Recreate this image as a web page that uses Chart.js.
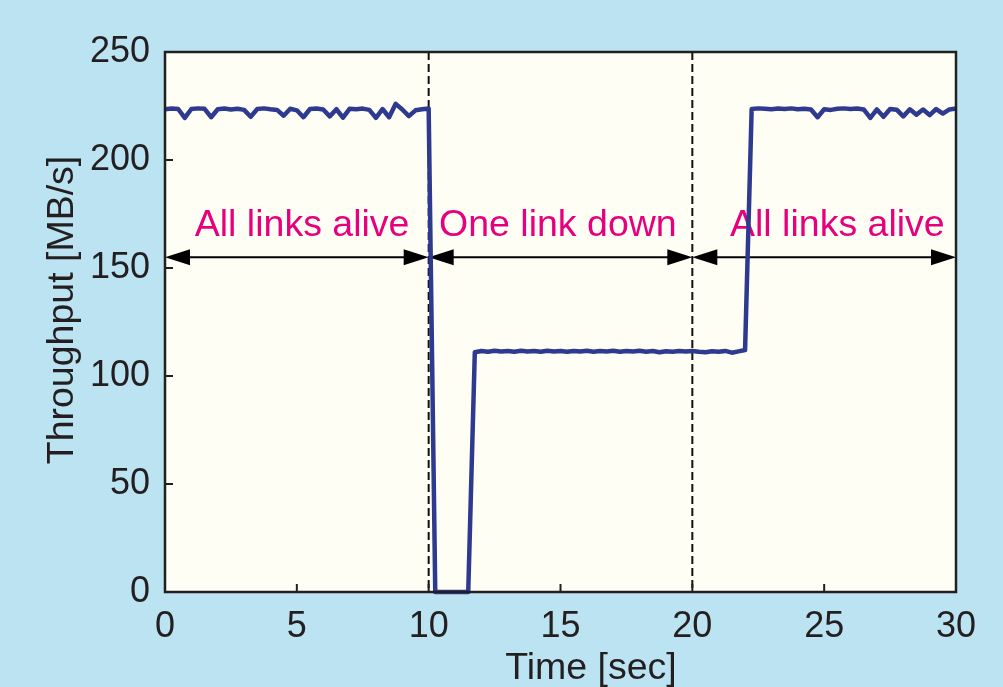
<!DOCTYPE html>
<html>
<head>
<meta charset="utf-8">
<script src="https://cdn.jsdelivr.net/npm/chart.js@4"></script>
<style>
  html, body { margin: 0; padding: 0; background: #bbe3f1; }
  #wrap { width: 1003px; height: 687px; }
</style>
</head>
<body>
<div id="wrap"><canvas id="myChart" width="1003" height="687"></canvas></div>
<script>
// tiempo [s], cada 0.25 s
const times = [
  0, 0.25, 0.5, 0.75, 1, 1.25, 1.5, 1.75, 2, 2.25, 2.5, 2.75, 3, 3.25, 3.5, 3.75,
  4, 4.25, 4.5, 4.75, 5, 5.25, 5.5, 5.75, 6, 6.25, 6.5, 6.75, 7, 7.25, 7.5, 7.75,
  8, 8.25, 8.5, 8.75, 9, 9.25, 9.5, 9.75, 10, 10.25, 10.5, 10.75, 11, 11.25, 11.5, 11.75,
  12, 12.25, 12.5, 12.75, 13, 13.25, 13.5, 13.75, 14, 14.25, 14.5, 14.75, 15, 15.25, 15.5, 15.75,
  16, 16.25, 16.5, 16.75, 17, 17.25, 17.5, 17.75, 18, 18.25, 18.5, 18.75, 19, 19.25, 19.5, 19.75,
  20, 20.25, 20.5, 20.75, 21, 21.25, 21.5, 21.75, 22, 22.25, 22.5, 22.75, 23, 23.25, 23.5, 23.75,
  24, 24.25, 24.5, 24.75, 25, 25.25, 25.5, 25.75, 26, 26.25, 26.5, 26.75, 27, 27.25, 27.5, 27.75,
  28, 28.25, 28.5, 28.75, 29, 29.25, 29.5, 29.75, 30
];

// throughput [MB/s]
const throughput = [
  223.5, 223.8, 223.6, 219.5, 223.6, 223.9, 223.7, 219.8, 223.5, 223.8, 223.4, 223.7, 223.2, 220.0, 223.6, 223.9,
  223.5, 223.2, 220.5, 223.7, 223.0, 219.8, 223.6, 223.8, 223.4, 220.2, 223.5, 219.6, 223.7, 223.5, 223.8, 223.2,
  219.5, 223.6, 219.8, 226.0, 223.4, 220.3, 223.0, 223.5, 223.8, 0, 0, 0, 0, 0, 0, 111.0,
  111.6, 111.2, 111.7, 111.3, 111.6, 111.2, 111.7, 111.3, 111.6, 111.2, 111.7, 111.3, 111.6, 111.2, 111.6, 111.3,
  111.7, 111.2, 111.6, 111.3, 111.7, 111.2, 111.6, 111.3, 111.7, 111.2, 111.6, 111.0, 111.5, 111.2, 111.6, 111.3,
  111.6, 111.2, 111.0, 111.5, 111.2, 111.6, 110.8, 111.4, 112.0, 223.6, 223.9, 223.7, 223.5, 223.8, 223.6, 223.9,
  223.5, 223.7, 223.4, 219.8, 223.5, 223.2, 223.7, 223.9, 223.6, 223.8, 223.4, 219.5, 223.4, 220.0, 223.6, 223.3,
  220.2, 223.5, 221.0, 223.4, 220.8, 223.6, 221.5, 223.4, 223.8
];

// fases del experimento
const phaseStarts = [0, 10, 20];
const phaseEnds = [10, 20, 30];
const phaseLabels = ["All links alive", "One link down", "All links alive"];
const phaseLabelX = [5.2, 14.9, 25.5];
const arrowLevel = 155;
const labelLevel = 165;
const dividers = [10, 20];

const xTicks = [0, 5, 10, 15, 20, 25, 30];
const yTicks = [0, 50, 100, 150, 200, 250];
const xTitle = "Time [sec]";
const yTitle = "Throughput [MB/s]";

const FONT = "'Liberation Sans', Arial, Helvetica, sans-serif";

const decoPlugin = {
  id: "deco",
  beforeDraw(chart) {
    const ctx = chart.ctx;
    const a = chart.chartArea;
    ctx.save();
    ctx.fillStyle = "#bbe3f1";
    ctx.fillRect(0, 0, chart.width, chart.height);
    ctx.fillStyle = "#fefef4";
    ctx.fillRect(a.left, a.top, a.right - a.left, a.bottom - a.top);
    ctx.restore();
  },
  beforeDatasetsDraw(chart) {
    const ctx = chart.ctx;
    const a = chart.chartArea;
    const xs = chart.scales.x;
    const ys = chart.scales.y;
    ctx.save();
    // líneas divisorias punteadas
    ctx.strokeStyle = "#111";
    ctx.lineWidth = 2;
    ctx.setLineDash([8, 4]);
    dividers.forEach(d => {
      const px = xs.getPixelForValue(d);
      ctx.beginPath();
      ctx.moveTo(px, a.top);
      ctx.lineTo(px, a.bottom);
      ctx.stroke();
    });
    ctx.setLineDash([]);
    // flechas
    const py = ys.getPixelForValue(arrowLevel);
    const headL = 25, headH = 8;
    for (let i = 0; i < phaseStarts.length; i++) {
      const x1 = xs.getPixelForValue(phaseStarts[i]);
      const x2 = xs.getPixelForValue(phaseEnds[i]);
      ctx.strokeStyle = "#000";
      ctx.fillStyle = "#000";
      ctx.lineWidth = 2;
      ctx.beginPath();
      ctx.moveTo(x1 + 5, py);
      ctx.lineTo(x2 - 5, py);
      ctx.stroke();
      ctx.beginPath();
      ctx.moveTo(x1, py);
      ctx.lineTo(x1 + headL, py - headH);
      ctx.lineTo(x1 + headL, py + headH);
      ctx.closePath();
      ctx.fill();
      ctx.beginPath();
      ctx.moveTo(x2, py);
      ctx.lineTo(x2 - headL, py - headH);
      ctx.lineTo(x2 - headL, py + headH);
      ctx.closePath();
      ctx.fill();
      // texto
      ctx.fillStyle = "#e6007e";
      ctx.font = "37.5px " + FONT;
      ctx.textAlign = "center";
      ctx.textBaseline = "alphabetic";
      ctx.fillText(phaseLabels[i], xs.getPixelForValue(phaseLabelX[i]), ys.getPixelForValue(labelLevel));
    }
    ctx.restore();
  },
  afterDraw(chart) {
    const ctx = chart.ctx;
    const a = chart.chartArea;
    const xs = chart.scales.x;
    const ys = chart.scales.y;
    ctx.save();
    ctx.strokeStyle = "#231f20";
    ctx.lineWidth = 2;
    // marcas hacia adentro
    xTicks.forEach(t => {
      const px = xs.getPixelForValue(t);
      ctx.beginPath();
      ctx.moveTo(px, a.bottom);
      ctx.lineTo(px, a.bottom - 8);
      ctx.stroke();
    });
    yTicks.forEach(t => {
      const py = ys.getPixelForValue(t);
      ctx.beginPath();
      ctx.moveTo(a.left, py);
      ctx.lineTo(a.left + 8, py);
      ctx.stroke();
    });
    ctx.lineWidth = 2.5;
    ctx.strokeRect(a.left, a.top, a.right - a.left, a.bottom - a.top);
    // títulos de ejes
    ctx.fillStyle = "#231f20";
    ctx.font = "37.5px " + FONT;
    ctx.textAlign = "center";
    ctx.textBaseline = "alphabetic";
    ctx.fillText(xTitle, 591, 679);
    ctx.translate(73, 310);
    ctx.rotate(-Math.PI / 2);
    ctx.fillText(yTitle, 0, 0);
    ctx.restore();
  }
};

const points = times.map((t, i) => ({ x: t, y: throughput[i] }));

new Chart("myChart", {
  type: "line",
  data: {
    datasets: [{
      data: points,
      borderColor: "#2e3a8f",
      borderWidth: 4.5,
      borderJoinStyle: "round",
      pointRadius: 0,
      tension: 0,
      fill: false,
      clip: false
    }]
  },
  options: {
    responsive: false,
    animation: false,
    layout: { padding: { top: 52, right: 47, left: 0, bottom: 0 } },
    plugins: {
      legend: { display: false },
      tooltip: { enabled: false }
    },
    scales: {
      x: {
        type: "linear",
        min: 0,
        max: 30,
        afterFit: s => { s.height = 95; },
        afterBuildTicks: s => { s.ticks = xTicks.map(v => ({ value: v })); },
        grid: { display: false, drawTicks: false },
        border: { display: false },
        ticks: { color: "#231f20", font: { family: FONT, size: 36 }, padding: 13, maxRotation: 0 }
      },
      y: {
        min: 0,
        max: 250,
        afterFit: s => { s.width = 165; },
        afterBuildTicks: s => { s.ticks = yTicks.map(v => ({ value: v })); },
        grid: { display: false, drawTicks: false },
        border: { display: false },
        ticks: { color: "#231f20", font: { family: FONT, size: 36 }, padding: 15 }
      }
    }
  },
  plugins: [decoPlugin]
});
</script>
</body>
</html>
